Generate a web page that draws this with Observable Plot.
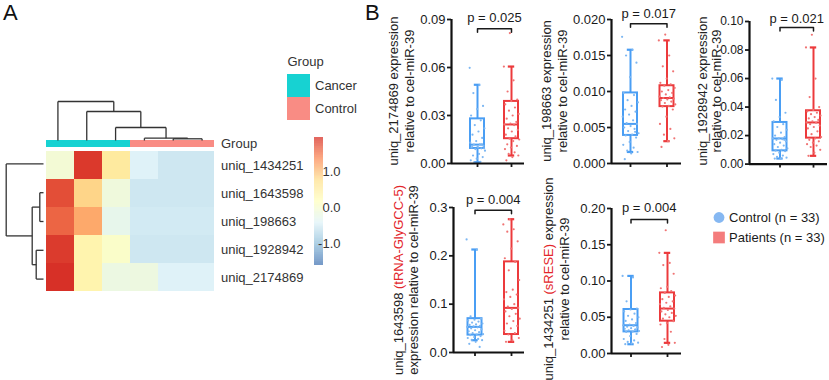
<!DOCTYPE html>
<html><head><meta charset="utf-8">
<script src="https://cdn.jsdelivr.net/npm/d3@7"></script>
<script src="https://cdn.jsdelivr.net/npm/@observablehq/plot@0.6"></script>
<style>
body{margin:0;background:#fff;}
#fig{position:relative;width:829px;height:380px;overflow:hidden;font-family:'Liberation Sans',Arial,Helvetica,sans-serif;color:#222;background:#fff;}
#fig svg{position:absolute;overflow:visible;background:transparent !important;max-width:none !important;}
#fig .bp g[aria-label$="tick"]{stroke-width:1.8px;}
.ylbl{position:absolute;font-size:13px;white-space:nowrap;text-align:center;line-height:15px;transform:translate(-50%,-50%) rotate(-90deg);color:#222;}
.panel{position:absolute;font-size:22px;line-height:26px;color:#111;}
.alias{color:#e3262b;}
</style></head><body><div id="fig"></div>
<script>
// ---------- Panel A data ----------
const heatRows = ["uniq_1434251","uniq_1643598","uniq_198663","uniq_1928942","uniq_2174869"];
const heatCols = ["c1","c2","c3","c4","c5","c6"];
const heatGroups = ["Cancer","Cancer","Cancer","Control","Control","Control"];
const heatValues = [
  [-0.05, 1.90, 0.59, -0.42, -0.55, -0.55],
  [ 1.77, 0.85, -0.12, -0.55, -0.55, -0.55],
  [ 1.62, 1.17, -0.28, -0.52, -0.52, -0.52],
  [ 1.89, 0.40, 0.08, -0.55, -0.55, -0.55],
  [ 1.96, 0.40, -0.18, -0.16, -0.42, -0.42]
];
const colTree = [["c5","c6",1.7],["c4",0,2.3],["c3",1,13],["c2",2,29],["c1",3,39]];
const rowTree = [["uniq_1643598","uniq_198663",3.7],["uniq_1928942","uniq_2174869",7.3],[0,1,11.3],["uniq_1434251",2,37.3]];
const groupNames = ["Cancer","Control"];
const colorTicks = [1, 0, -1];
const colorDomain = [-1.6, 1.96];

// ---------- Panel B data ----------
const bpGenes = ["uniq_2174869","uniq_198663","uniq_1928942","uniq_1643598","uniq_1434251"];
const bpAliases = ["","","","tRNA-GlyGCC-5","sRESE"];
const bpPValues = ["0.025","0.017","0.021","0.004","0.004"];
const bpYMax = [0.09, 0.02, 0.10, 0.3, 0.2];
const bpYStep = [0.03, 0.005, 0.02, 0.1, 0.05];
const bpDigits = [2, 3, 2, 1, 2];
const bpBracket = [0.0842, 0.0194, 0.0958, 0.2944, 0.185];
const bpPText = [0.0913, 0.0208, 0.1019, 0.3155, 0.2005];
// [lower whisker, Q1, median, Q3, upper whisker]
const controlStats = [
  [0.0008, 0.0094, 0.0118, 0.0279, 0.0492],
  [0.0016, 0.0039, 0.0055, 0.0098, 0.0158],
  [0.0039, 0.0093, 0.0180, 0.0292, 0.0600],
  [0.0254, 0.0360, 0.0530, 0.0700, 0.2131],
  [0.0128, 0.0298, 0.0390, 0.0607, 0.1070]
];
const patientStats = [
  [0.0050, 0.0155, 0.0244, 0.0388, 0.0606],
  [0.0031, 0.0079, 0.0091, 0.0108, 0.0171],
  [0.0058, 0.0182, 0.0292, 0.0374, 0.0818],
  [0.0220, 0.0372, 0.0923, 0.1875, 0.2758],
  [0.0147, 0.0446, 0.0620, 0.0836, 0.1388]
];
const controlPoints = [
  [0.0598,0.049,0.044,0.036,0.034,0.030,0.027,0.024,0.022,0.020,0.018,0.016,0.014,0.013,0.012,0.0118,0.011,0.0105,0.010,0.0095,0.009,0.008,0.006,0.005,0.004,0.003,0.002,0.001,0.0008,0.0095,0.010,0.011,0.012],
  [0.0176,0.0158,0.0150,0.0140,0.0120,0.0098,0.0095,0.0088,0.0085,0.0080,0.0075,0.0072,0.0068,0.0065,0.0060,0.0056,0.0055,0.0052,0.0050,0.0048,0.0045,0.0042,0.0040,0.0039,0.0036,0.0030,0.0026,0.0022,0.0018,0.0016,0.0014,0.0006,0.0044],
  [0.060,0.059,0.045,0.036,0.033,0.030,0.028,0.026,0.024,0.022,0.020,0.019,0.018,0.018,0.0175,0.017,0.016,0.015,0.014,0.013,0.012,0.011,0.010,0.0095,0.009,0.008,0.007,0.006,0.005,0.0045,0.004,0.0039,0.017],
  [0.234,0.213,0.075,0.070,0.068,0.066,0.064,0.062,0.060,0.058,0.057,0.055,0.054,0.053,0.052,0.050,0.048,0.046,0.044,0.042,0.040,0.038,0.037,0.036,0.034,0.032,0.030,0.028,0.026,0.0254,0.022,0.018,0.0116],
  [0.107,0.105,0.072,0.062,0.0607,0.058,0.055,0.052,0.050,0.047,0.045,0.042,0.040,0.039,0.038,0.037,0.036,0.035,0.034,0.033,0.032,0.031,0.030,0.0298,0.027,0.024,0.020,0.018,0.016,0.015,0.014,0.0128,0.033]
];
const patientPoints = [
  [0.0815,0.0606,0.052,0.045,0.040,0.039,0.037,0.035,0.033,0.031,0.030,0.028,0.026,0.025,0.0244,0.024,0.022,0.021,0.020,0.018,0.017,0.0155,0.015,0.014,0.012,0.011,0.010,0.009,0.007,0.006,0.005,0.004,0.002],
  [0.0179,0.0171,0.0150,0.0135,0.0128,0.0118,0.0112,0.0110,0.0108,0.0105,0.0102,0.0100,0.0098,0.0096,0.0093,0.0092,0.0091,0.0090,0.0089,0.0088,0.0086,0.0084,0.0082,0.0080,0.0079,0.0075,0.0065,0.0055,0.0048,0.0040,0.0035,0.0031,0.0023],
  [0.0907,0.0818,0.060,0.047,0.040,0.038,0.037,0.036,0.035,0.034,0.033,0.032,0.031,0.030,0.0292,0.029,0.028,0.027,0.026,0.025,0.023,0.021,0.019,0.018,0.017,0.016,0.015,0.014,0.013,0.012,0.010,0.008,0.0058],
  [0.2758,0.265,0.255,0.250,0.230,0.215,0.195,0.1875,0.170,0.150,0.130,0.125,0.120,0.115,0.110,0.100,0.095,0.0923,0.090,0.085,0.080,0.075,0.070,0.065,0.060,0.055,0.050,0.045,0.040,0.0372,0.030,0.025,0.022],
  [0.170,0.1388,0.125,0.122,0.110,0.092,0.090,0.086,0.0836,0.080,0.078,0.075,0.072,0.070,0.068,0.065,0.063,0.062,0.060,0.058,0.056,0.054,0.052,0.050,0.048,0.0446,0.042,0.040,0.030,0.020,0.0147,0.012,0.009]
];
const legendLabels = ["Control (n = 33)", "Patients (n = 33)"];

// ---------- styles / layout ----------
const FONT = "'Liberation Sans', Arial, Helvetica, sans-serif";
const heatPalette = ["#4575B4","#91BFDB","#E0F3F8","#FFFFBF","#FEE090","#FC8D59","#D73027"];
const groupColor = {Cancer: "#17D2D2", Control: "#F98C84"};
const ctrlStroke = "#4A9EF4", ctrlDot = "#7DB7F2";
const patStroke = "#EC3A3C", patDot = "#F07474";
const bpLayout = [
  {axis:451, right:524, top:19,    bottom:163,   c0:477,   c1:511,   lx:402,   ly:91,  lh:16,   fs:13},
  {axis:611, right:681, top:19,    bottom:163,   c0:630,   c1:666.5, lx:555,   ly:91,  lh:16,   fs:13},
  {axis:749, right:827, top:20.7,  bottom:163.3, c0:779.5, c1:813,   lx:708.5, ly:91,  lh:13.5, fs:12},
  {axis:453, right:524, top:207.3, bottom:352.3, c0:474.5, c1:511,   lx:405.5, ly:280, lh:15,   fs:13},
  {axis:611, right:681, top:208.3, bottom:353.3, c0:630.5, c1:667,   lx:556.5, ly:279, lh:16,   fs:13}
];

const fig = document.getElementById("fig");
function mount(svg, left, top, cls) {
  svg.style.left = left + "px"; svg.style.top = top + "px";
  if (cls) svg.classList.add(cls);
  fig.appendChild(svg);
}
function layer(opts) {
  return Plot.plot({width: 360, height: 380, margin: 0,
    style: {background: "transparent", fontFamily: FONT, fontSize: "13px", color: "#333", overflow: "visible"},
    ...opts});
}
const stopsDomain = heatPalette.map((_, i) => colorDomain[0] + i * (colorDomain[1] - colorDomain[0]) / (heatPalette.length - 1));
const colorScale = {type: "linear", domain: stopsDomain, range: heatPalette};

// dendrogram segments
function dendro(tree, leaves) {
  const pos = new Map(leaves.map((l, i) => [l, {p: i + 0.5, h: 0}]));
  const nodes = [], segs = [];
  const get = k => typeof k === "number" ? nodes[k] : pos.get(k);
  for (const [a, b, h] of tree) {
    const A = get(a), B = get(b);
    segs.push({p1: A.p, h1: A.h, p2: A.p, h2: h});
    segs.push({p1: B.p, h1: B.h, p2: B.p, h2: h});
    segs.push({p1: A.p, h1: h, p2: B.p, h2: h});
    nodes.push({p: (A.p + B.p) / 2, h});
  }
  return segs;
}

// ---------- Panel A ----------
const cells = heatRows.flatMap((r, i) => heatCols.map((c, j) => ({row: r, col: c, value: heatValues[i][j]})));
mount(layer({
  x: {type: "band", domain: heatCols, range: [43, 216], padding: 0, axis: null},
  y: {type: "band", domain: heatRows, range: [149, 293], padding: 0, axis: null},
  color: colorScale,
  marks: [
    Plot.cell(cells, {x: "col", y: "row", fill: "value", inset: 0}),
    Plot.text(heatRows, {x: () => "c6", y: d => d, text: d => d, textAnchor: "start", dx: 20.5, fontSize: 13, fill: "#333"})
  ]
}), 0, 0);

// group annotation bar
const groupBar = heatCols.map((c, j) => ({col: c, group: heatGroups[j]}));
mount(layer({
  x: {type: "band", domain: heatCols, range: [43, 216], padding: 0, axis: null},
  y: {type: "band", domain: ["Group"], range: [140, 147.5], padding: 0, axis: null},
  color: {type: "identity"},
  marks: [
    Plot.cell(groupBar, {x: "col", y: () => "Group", fill: d => groupColor[d.group], inset: 0}),
    Plot.text(["Group"], {x: () => "c6", y: () => "Group", text: d => d, textAnchor: "start", dx: 20.5, fontSize: 13, fill: "#333"})
  ]
}), 0, 0);

// column dendrogram
mount(layer({
  x: {domain: [0, heatCols.length], range: [43, 216], axis: null},
  y: {domain: [0, 39], range: [140, 101], axis: null},
  marks: [Plot.link(dendro(colTree, heatCols), {x1: "p1", y1: "h1", x2: "p2", y2: "h2", stroke: "#333", strokeWidth: 1.3})]
}), 0, 0);

// row dendrogram
mount(layer({
  x: {domain: [0, 37.3], range: [43, 5.7], axis: null},
  y: {domain: [0, heatRows.length], range: [149, 293], axis: null},
  marks: [Plot.link(dendro(rowTree, heatRows), {x1: "h1", y1: "p1", x2: "h2", y2: "p2", stroke: "#333", strokeWidth: 1.3})]
}), 0, 0);

// group legend
mount(layer({
  x: {type: "band", domain: ["sw"], range: [287, 310], padding: 0, axis: null},
  y: {type: "band", domain: groupNames, range: [73, 120], padding: 0, axis: null},
  color: {type: "identity"},
  marks: [
    Plot.cell(groupNames, {x: () => "sw", y: d => d, fill: d => groupColor[d], inset: 0}),
    Plot.text(groupNames, {x: () => "sw", y: d => d, text: d => d, textAnchor: "start", dx: 16, fontSize: 13, fill: "#333"}),
    Plot.text(["Group"], {x: () => "sw", y: () => groupNames[0], text: d => d, textAnchor: "start", dx: -11.5, dy: -24, fontSize: 13, fill: "#333"})
  ]
}), 0, 0);

// colour bar
const slices = d3.range(colorDomain[0], colorDomain[1], 0.01);
mount(layer({
  x: {domain: [0, 1], range: [314, 323], axis: null},
  y: {domain: colorDomain, range: [265, 137], axis: null},
  color: colorScale,
  marks: [
    Plot.rect(slices, {x1: 0, x2: 1, y1: d => d, y2: d => Math.min(d + 0.011, colorDomain[1]), fill: d => d + 0.005}),
    Plot.text(colorTicks, {x: 1, y: d => d, text: d => d.toFixed(1), textAnchor: "end", dx: 17, fontSize: 13, fill: "#333"})
  ]
}), 0, 0);

// panel letters
for (const [t, l, tp] of [["A", 3, 0], ["B", 365, 0]]) {
  const d = document.createElement("div");
  d.className = "panel"; d.textContent = t; d.style.left = l + "px"; d.style.top = tp + "px";
  fig.appendChild(d);
}

// ---------- Panel B ----------
bpGenes.forEach((gene, k) => {
  const L = bpLayout[k];
  const mL = 48, mT = 24, mB = 8;
  const left = L.axis - mL, top = L.top - mT;
  const width = L.right - left, height = L.bottom - top + mB;
  const unit = L.c1 - L.c0;
  const x0 = -(L.c0 - L.axis) / unit, x1 = 1 + (L.right - L.c1) / unit;
  const max = bpYMax[k];
  const pv = max / (L.bottom - L.top);
  const bw = 7 / unit, cw = 3.2 / unit;
  const stats = [controlStats[k], patientStats[k]].map((s, g) => ({g, lo: s[0], q1: s[1], med: s[2], q3: s[3], hi: s[4]}));
  const pts = [...controlPoints[k].map(v => ({g: 0, v})), ...patientPoints[k].map(v => ({g: 1, v}))];
  const jit = (d, i) => d.g + (((i * 0.618034) % 1) - 0.5) * 0.46;
  const strokeOf = d => d.g === 0 ? ctrlStroke : patStroke;
  const b = bpBracket[k], tk = 3.5 * pv;
  const svg = Plot.plot({
    width, height, marginLeft: mL, marginRight: 0, marginTop: mT, marginBottom: mB,
    style: {background: "transparent", fontFamily: FONT, fontSize: L.fs + "px", color: "#1a1a1a", overflow: "visible"},
    x: {domain: [x0, x1], ticks: [0, 1], tickFormat: () => "", tickSize: 4, label: null},
    y: {domain: [0, max], ticks: d3.range(0, max + bpYStep[k] / 2, bpYStep[k]), tickFormat: d => d.toFixed(bpDigits[k]), tickSize: 4, tickPadding: 2, label: null},
    color: {type: "identity"},
    marks: [
      Plot.ruleX(stats, {x: "g", y1: "lo", y2: "q1", stroke: strokeOf, strokeWidth: 2}),
      Plot.ruleX(stats, {x: "g", y1: "q3", y2: "hi", stroke: strokeOf, strokeWidth: 2}),
      Plot.rect(stats, {x1: d => d.g - bw, x2: d => d.g + bw, y1: "q1", y2: "q3", fill: "none", stroke: strokeOf, strokeWidth: 2}),
      Plot.ruleY(stats, {y: "med", x1: d => d.g - bw, x2: d => d.g + bw, stroke: strokeOf, strokeWidth: 2}),
      Plot.ruleY(stats, {y: "lo", x1: d => d.g - cw, x2: d => d.g + cw, stroke: strokeOf, strokeWidth: 2.2}),
      Plot.ruleY(stats, {y: "hi", x1: d => d.g - cw, x2: d => d.g + cw, stroke: strokeOf, strokeWidth: 2.2}),
      Plot.dot(pts, {x: jit, y: "v", r: 1.1, fill: d => d.g === 0 ? ctrlDot : patDot, stroke: null}),
      Plot.line([[0, b - tk], [0, b], [1, b], [1, b - tk]], {x: d => d[0], y: d => d[1], stroke: "#1a1a1a", strokeWidth: 1.5}),
      Plot.text([`p = ${bpPValues[k]}`], {x: 0.5, y: bpPText[k], text: d => d, fontSize: 13, fill: "#1a1a1a"}),
      Plot.ruleX([x0], {stroke: "#111", strokeWidth: 2.2}),
      Plot.ruleY([0], {stroke: "#111", strokeWidth: 2.2})
    ]
  });
  mount(svg, left, top, "bp");

  // y label (two lines, rotated)
  const lab = document.createElement("div");
  lab.className = "ylbl";
  lab.style.left = L.lx + "px"; lab.style.top = L.ly + "px"; lab.style.lineHeight = L.lh + "px";
  const l1 = document.createElement("div");
  const l2 = document.createElement("div");
  l1.append(gene + " ");
  if (bpAliases[k]) {
    const s = document.createElement("span"); s.className = "alias"; s.textContent = `(${bpAliases[k]})`;
    l1.append(s);
  }
  if (k === 3) { l2.textContent = "expression relative to cel-miR-39"; }
  else { l1.append((bpAliases[k] ? " " : "") + "expression"); l2.textContent = "relative to cel-miR-39"; }
  lab.append(l1, l2);
  fig.appendChild(lab);
});

// legend for panel B
mount(Plot.plot({
  width: 829, height: 380, margin: 0,
  style: {background: "transparent", fontFamily: FONT, fontSize: "13px", color: "#1a1a1a", overflow: "visible"},
  x: {domain: [0, 1], range: [718.5, 728.5], axis: null},
  y: {type: "band", domain: legendLabels, range: [206.7, 247.3], padding: 0, axis: null},
  marks: [
    Plot.dot(legendLabels.slice(0, 1), {x: 0, y: d => d, symbol: "circle", r: 5.4, fill: "#86B8F2", stroke: "none"}),
    Plot.dot(legendLabels.slice(1, 2), {x: 0, y: d => d, symbol: "square", r: 6.6, fill: "#F47C7C", stroke: "none"}),
    Plot.text(legendLabels, {x: 1, y: d => d, text: d => d, textAnchor: "start", fontSize: 13, fill: "#1a1a1a"})
  ]
}), 0, 0);
</script></body></html>
